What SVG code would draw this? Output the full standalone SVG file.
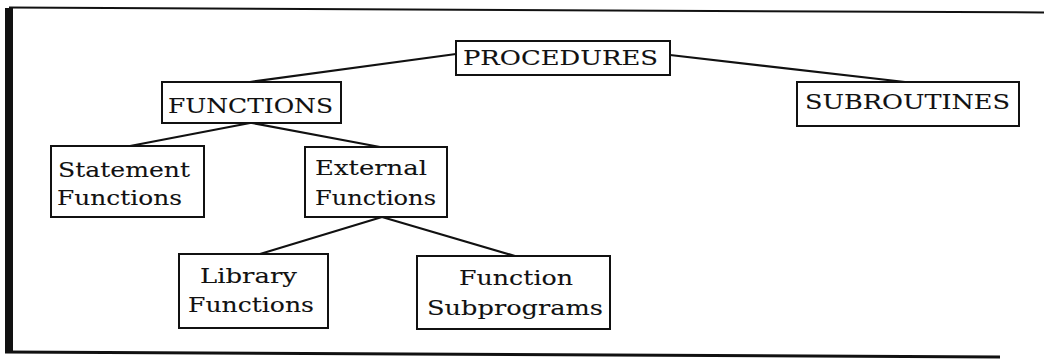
<svg xmlns="http://www.w3.org/2000/svg" width="1044" height="359" viewBox="0 0 1044 359">
  <style>
    .box { fill: #fff; stroke: #111; stroke-width: 2; }
    .edge { fill: none; stroke: #111; stroke-width: 2.2; stroke-linecap: round; }
    .frame { fill: none; stroke: #111; }
    text { font-family: "DejaVu Serif", "Liberation Serif", serif; font-size: 21px; fill: #111; stroke: #111; stroke-width: 0.1; }
  </style>
  <rect width="1044" height="359" fill="#fff"/>

  <!-- outer frame: heavy left rule, thin top rule, bottom rule -->
  <g id="frame">
    <line class="frame" x1="9" y1="8" x2="9" y2="353" stroke-width="8"/>
    <line class="frame" x1="9" y1="7.5" x2="1044" y2="12.5" stroke-width="2"/>
    <line class="frame" x1="5" y1="352" x2="1000" y2="357" stroke-width="3"/>
  </g>

  <!-- tree connectors -->
  <g id="connectors">
    <line class="edge" x1="456" y1="54" x2="250" y2="82"/>
    <line class="edge" x1="670" y1="55" x2="905" y2="82"/>
    <line class="edge" x1="250" y1="123" x2="130" y2="146"/>
    <line class="edge" x1="252" y1="123" x2="380" y2="147"/>
    <line class="edge" x1="382" y1="217" x2="260" y2="254"/>
    <line class="edge" x1="382" y1="217" x2="515" y2="256"/>
  </g>

  <g id="procedures">
    <rect class="box" x="456" y="41" width="214" height="34"/>
    <text x="463" y="65" textLength="195" lengthAdjust="spacingAndGlyphs">PROCEDURES</text>
  </g>

  <g id="functions">
    <rect class="box" x="162" y="82" width="179" height="41"/>
    <text x="168" y="113" textLength="165" lengthAdjust="spacingAndGlyphs">FUNCTIONS</text>
  </g>

  <g id="subroutines">
    <rect class="box" x="797" y="82" width="222" height="44"/>
    <text x="805" y="109" textLength="205" lengthAdjust="spacingAndGlyphs">SUBROUTINES</text>
  </g>

  <g id="statement-functions">
    <rect class="box" x="51" y="146" width="153" height="71"/>
    <text x="58" y="177" textLength="132" lengthAdjust="spacingAndGlyphs">Statement</text>
    <text x="57" y="205" textLength="125" lengthAdjust="spacingAndGlyphs">Functions</text>
  </g>

  <g id="external-functions">
    <rect class="box" x="305" y="147" width="142" height="70"/>
    <text x="315" y="175" textLength="112" lengthAdjust="spacingAndGlyphs">External</text>
    <text x="315" y="205" textLength="121" lengthAdjust="spacingAndGlyphs">Functions</text>
  </g>

  <g id="library-functions">
    <rect class="box" x="179" y="254" width="149" height="74"/>
    <text x="200" y="283" textLength="97" lengthAdjust="spacingAndGlyphs">Library</text>
    <text x="188" y="312" textLength="126" lengthAdjust="spacingAndGlyphs">Functions</text>
  </g>

  <g id="function-subprograms">
    <rect class="box" x="417" y="256" width="193" height="73"/>
    <text x="459" y="285" textLength="114" lengthAdjust="spacingAndGlyphs">Function</text>
    <text x="427" y="315" textLength="176" lengthAdjust="spacingAndGlyphs">Subprograms</text>
  </g>
</svg>
